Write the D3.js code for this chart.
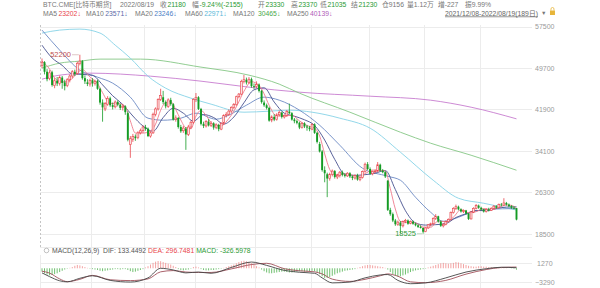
<!DOCTYPE html>
<html><head><meta charset="utf-8">
<script src="https://cdn.jsdelivr.net/npm/d3@7"></script>
<style>body{margin:0;background:#fff;} svg{display:block;font-family:"Liberation Sans","Noto Sans CJK SC",sans-serif;}</style>
</head><body><svg id="c" width="600" height="288"></svg>
<script>
// ---------- DATA ----------
const opens=[50200,50800,49000,47700,48900,46400,47300,46800,47900,47000,46400,47500,48200,49000,48700,50600,51000,47800,47000,46700,
47400,46800,47300,45800,43200,42000,42900,44000,42700,42400,43300,42800,42300,42500,41200,35300,36300,36800,36600,37500,
37900,38600,38300,36900,37500,41000,42000,43800,44200,43300,42500,43700,42900,40000,40300,38600,37900,38300,37200,38600,
39500,43800,44200,42000,39200,38800,39600,38900,39300,38500,39000,38200,39300,40800,41000,41600,42300,42800,44300,44800,
47200,47500,47000,47600,46300,46200,46600,45400,43200,42700,42200,39900,40500,40000,40900,41300,40500,40800,41500,41200,
40000,39700,39400,38500,39300,38700,38500,38200,39100,37500,35400,34000,30500,29700,28900,29700,30300,29200,29500,30100,
29600,29400,29900,29300,29000,29500,28700,29100,30200,31600,30700,29800,30200,30300,31500,30400,30100,28500,23000,22200,
21000,20300,20600,20000,20800,21000,20500,20800,20400,20100,19800,19600,18900,19600,20200,20400,21400,21800,20800,20000,
20300,20800,21200,22500,23300,23600,23100,22700,22900,22300,21300,22600,23300,23800,23400,23100,22700,23100,22900,23300,
23700,23400,24000,23900,24300,24000,23700,23400,23330];
const highs=[51500,51000,49500,49300,49200,47800,48000,48300,48200,47500,47800,48500,49300,49400,50900,52200,51200,48300,47600,47700,
47800,47500,47500,46000,43800,43300,44400,44300,43200,43600,43600,43000,42900,42700,41500,36900,37300,37200,37800,38300,
38900,39000,38500,37800,41300,42300,44000,45800,45400,43600,44000,44100,43100,40800,40500,39000,38800,38600,39000,39800,
44000,45000,44400,42200,39600,39900,40100,39700,39500,39300,39200,39500,41000,41400,41900,42500,43100,44500,45000,47500,
48400,47900,48000,47900,46800,47200,46800,45600,43600,43000,42400,40800,41000,41200,41700,41500,41000,41800,43000,41400,
40300,40000,39600,39500,39500,39000,38800,39300,39300,37700,35800,34300,31200,30000,30000,30600,30500,29800,30300,30400,
29900,30100,30100,29500,29700,29800,29300,30400,31900,32000,31000,30400,30600,32000,31700,30700,30300,28600,23400,22500,
21300,21000,20900,21000,21300,21200,21000,21000,20600,20300,20100,19700,19700,20300,20600,21600,22200,21900,21000,20500,
21000,21400,22700,23500,24000,23800,23300,23100,23000,22400,22800,23500,24100,24000,23600,23200,23300,23400,23500,23900,
23900,24200,24300,25200,24500,24200,23900,23700,23370];
const lows=[49700,48500,47200,47400,46200,45900,46300,46400,45800,45500,46100,47000,47800,48200,48400,50200,47500,46700,46300,46200,
46200,46400,45600,42800,39600,41600,42600,42400,41900,42100,42500,41800,41700,40900,35900,32800,35800,36000,36300,37200,
37500,37900,36700,36600,37300,40600,41700,43500,42900,42100,42200,42600,39800,39600,38300,37500,37500,34300,36900,38200,
39200,43300,41800,38900,38400,38500,38700,38600,38100,38200,37800,38000,39000,40400,40700,41200,42000,42600,44000,44600,
46800,46600,46700,46000,45800,45900,45100,43000,42400,41900,39600,39500,39700,39800,40600,40200,40200,40500,41000,39800,
39300,39100,38200,38300,38400,37900,37800,38000,37300,35500,33800,30200,28200,25400,28500,29300,28900,28800,29100,29300,
29100,29200,29000,28600,28700,28500,28400,28900,30000,30500,29600,29500,29900,30100,30200,29900,29000,22800,21900,20700,
20000,20000,18600,19700,20500,20200,20300,20200,19900,19600,19500,18525,18800,19400,19900,20200,21100,20600,19800,19700,
20100,20600,21000,22300,23000,22900,22500,22400,22100,21100,21200,22400,23100,23200,22900,22500,22500,22700,22800,23100,
23200,23300,23700,23800,23800,23500,23200,23100,21035];
const closes=[50800,49000,47600,48800,46500,47300,46800,47900,46900,46300,47500,48200,49000,48600,50600,51000,47800,47200,46700,47400,
46800,47200,45800,43200,42300,43000,44000,42700,42400,43300,42800,42200,42500,41400,36200,36400,36800,36500,37500,37900,
38600,38300,36900,37500,41000,42000,43800,44500,43300,42500,43700,42900,40000,40300,38600,37800,38400,37200,38600,39500,
43800,44200,42000,39200,38800,39600,38900,39300,38500,39000,38200,39300,40800,41000,41600,42300,42800,44300,44800,47200,
47500,47000,47600,46300,46200,46600,45400,43300,42700,42200,39800,40500,40000,40900,41300,40500,40800,41500,41200,40000,
39700,39400,38500,39300,38700,38500,38200,39100,37500,35800,34000,30500,29900,28900,29700,30300,29200,29500,30100,29600,
29400,29900,29300,29000,29500,28700,29100,30200,31600,30700,29800,30200,30300,31500,30400,30100,29300,23000,22200,21000,
20300,20700,20000,20800,21000,20400,20800,20400,20100,19800,19600,18900,19600,20200,20400,21400,21800,20800,20000,20300,
20800,21200,22500,23300,23600,23100,22700,22900,22300,21300,22600,23300,23800,23400,23100,22700,23100,22900,23300,23700,
23400,24000,23900,24300,24000,23700,23400,23335,21180];

// moving-average lines: [candle index, value]
const ma5=[[0,51000],[3,49500],[5,47840],[8,47080],[11,47360],[14,48780],[16,49400],[19,48020],[22,46780],[24,45060],[27,43040],[30,43040],[33,42440],[35,39740],[37,37460],[40,37460],[43,37840],[45,39140],[47,41760],[49,43220],[51,43380],[53,41880],[55,39920],[57,38460],[59,38300],[61,40660],[63,41740],[65,40760],[68,39020],[71,38860],[74,40180],[77,42400],[80,45320],[83,47120],[86,46420],[88,44840],[90,42680],[93,40680],[96,40700],[99,40800],[102,39760],[105,38880],[108,38400],[110,36920],[112,33540],[114,30600],[116,29600],[119,29740],[122,29660],[125,29280],[128,29820],[131,30500],[134,30440],[136,30320],[138,27000],[140,23160],[142,20840],[145,20580],[148,20540],[151,19760],[154,19740],[157,20920],[160,20740],[163,21620],[166,23040],[169,22460],[172,22660],[175,23260],[178,23020],[181,23460],[184,23920],[186,23860],[188,23202]];
const ma10=[[0,54000],[4,51600],[8,50200],[12,48600],[16,48500],[20,48330],[24,46540],[28,44480],[32,42840],[36,40670],[40,38800],[44,37800],[48,40380],[52,42120],[56,41200],[60,39710],[64,40950],[68,40380],[72,39160],[76,40480],[80,43160],[84,45600],[88,45980],[92,43300],[96,41200],[100,40640],[104,39960],[108,38890],[112,36150],[116,32490],[120,29710],[124,29500],[128,29630],[132,29910],[136,30410],[140,26830],[144,22840],[148,20550],[152,20140],[156,20220],[160,20420],[164,21570],[168,22270],[172,22890],[176,22850],[180,23270],[184,23530],[188,23571]];
const ma20=[[0,56840],[7,53070],[15,49300],[22,47990],[28,46860],[35,44220],[42,40260],[48,39880],[55,40260],[61,41200],[69,40070],[74,40830],[81,42710],[88,44220],[94,43650],[102,41770],[110,38940],[118,35170],[127,30840],[137,29330],[142,28580],[148,25380],[154,22550],[159,20860],[165,21610],[170,22550],[177,23120],[188,23246]];
const ma60=[[0,56280],[7,56840],[15,57030],[23,56280],[29,54010],[35,51570],[42,48170],[49,45910],[59,44030],[67,42900],[80,41390],[90,41580],[98,41770],[107,41390],[118,40260],[130,38380],[142,33860],[155,28580],[165,25190],[175,24250],[188,22971]];
const ma120=[[0,49680],[7,50620],[15,51000],[23,51380],[39,51380],[63,49870],[82,48360],[94,46670],[102,44970],[122,41390],[142,37620],[154,35550],[170,33290],[188,30465]];
const ma250=[[0,47600],[7,48360],[19,48740],[43,48170],[63,47230],[82,46100],[102,45160],[130,44400],[154,43650],[170,42330],[188,40139]];

const macdHist=[-800,-1200,-1500,-1700,-1600,-1400,-1200,-900,-600,
-300,-100,100,
300,600,800,700,500,300,
100,-100,-200,-300,
-400,-600,-700,-600,-500,-400,-300,
-200,-200,-300,-200,-200,
-400,-700,-900,-800,-600,-400,-200,
200,500,900,1300,1600,1750,1700,1500,1300,1100,900,600,300,
-200,-400,-500,-400,-300,-100,
300,400,200,
-200,-400,-500,-500,-400,-400,-300,-200,-100,100,300,
500,700,900,1200,1500,1700,1800,1700,1500,1200,900,500,200,
-300,-700,-1000,-1200,-1200,-1100,-1000,-900,-800,-800,-900,-1000,-1000,-900,-800,
-700,-700,-800,-800,-700,-600,-700,-900,
-1400,-1900,-2300,-2300,-2100,-1800,
-1500,-1200,-1000,-800,-600,-500,-400,-300,-200,
100,300,500,700,800,800,700,600,500,400,300,
100,-300,
-900,-1400,-1800,-2000,-1900,-1700,-1500,-1200,
-900,-700,-500,-400,-300,-200,-100,
200,400,600,800,1000,1200,1300,1200,1100,1200,1300,1500,1400,1200,1000,800,600,500,
400,400,500,500,400,400,300,300,200,200,100,
100,100,50,0,-50,-100,-327];
const dif=[[0,-1100],[3,-2000],[7,-3000],[10,-3250],[15,-2400],[20,-1800],[27,-2900],[35,-3300],[42,-2300],[47,0],[52,-400],[57,-1100],[62,-900],[67,-1200],[75,200],[83,1500],[89,700],[96,-500],[102,-950],[108,-1200],[111,-2300],[115,-3500],[122,-3300],[128,-2300],[134,-1600],[137,-1500],[141,-2900],[146,-3700],[152,-3500],[160,-2300],[168,-900],[176,-100],[182,250],[188,133]];
const dea=[[0,-700],[3,-1150],[7,-2550],[10,-3200],[15,-2650],[20,-1700],[27,-2750],[35,-2950],[42,-2550],[47,-850],[52,-550],[57,-900],[62,-1000],[67,-1000],[75,-150],[83,900],[89,1200],[96,-100],[102,-600],[108,-850],[111,-1350],[115,-2600],[122,-3150],[128,-2650],[134,-1800],[137,-1350],[141,-1900],[146,-3250],[152,-3450],[160,-2900],[168,-1400],[176,-300],[182,200],[188,296]];

const priceTicks=[57500,49700,41900,34100,26300,18500];
const macdTicks=[1270,-3290];
const monthStarts=[20,41,61,85,107,130,152,174];
const rangeLabel="2021/12/08-2022/08/19(189日)";

// ---------- DRAW ----------
const svg=d3.select("#c");
const UP="#e8434a", DOWN="#149b24", GRID="#ececec";
const n=closes.length;
const x=d3.scaleBand().domain(d3.range(n)).range([40.74,517.76]).padding(0);
const cx=i=>x(i)+x.bandwidth()/2;
const y=d3.scaleLinear().domain([18500,57500]).range([233.8,26.6]);
const ym=d3.scaleLinear().domain([-3290,1270]).range([282,263]);

const grid=svg.append("g");
grid.selectAll(".hg").data(priceTicks).join("line")
  .attr("x1",40).attr("x2",532).attr("y1",d=>Math.round(y(d))+0.5).attr("y2",d=>Math.round(y(d))+0.5)
  .attr("stroke",GRID);
grid.selectAll(".mg").data(macdTicks).join("line")
  .attr("x1",40).attr("x2",532).attr("y1",d=>Math.round(ym(d))+0.5).attr("y2",d=>Math.round(ym(d))+0.5)
  .attr("stroke",GRID);
grid.append("line").attr("x1",40).attr("x2",532).attr("y1",247.5).attr("y2",247.5).attr("stroke",GRID);
grid.selectAll(".vg").data(monthStarts).join("line")
  .attr("x1",d=>Math.round(x(d))+0.5).attr("x2",d=>Math.round(x(d))+0.5).attr("y1",25).attr("y2",288)
  .attr("stroke",GRID);
grid.append("line").attr("x1",40.5).attr("x2",40.5).attr("y1",25).attr("y2",247)
  .attr("stroke","#c4c4c4").attr("stroke-dasharray","2,2");
grid.append("line").attr("x1",40.5).attr("x2",40.5).attr("y1",255).attr("y2",288).attr("stroke",GRID);

// axes
const ay=svg.append("g").attr("transform","translate(535,0)")
  .call(d3.axisRight(y).tickValues(priceTicks).tickSize(0).tickPadding(0).tickFormat(d3.format("d")));
const am=svg.append("g").attr("transform","translate(535,0)")
  .call(d3.axisRight(ym).tickValues(macdTicks).tickSize(0).tickPadding(0).tickFormat(d3.format("d")));
[ay,am].forEach(a=>{a.select(".domain").remove();
  a.selectAll("text").attr("fill","#9a9a9a").style("font-size","7px").style("font-family",'"Liberation Sans",sans-serif');});
am.selectAll("text").filter(d=>d>0).attr("x",2);

// MA lines
const maLine=(sc)=>d3.line().x(d=>cx(d[0])).y(d=>sc(d[1])).curve(d3.curveMonotoneX);
const maDefs=[[ma250,"#c77dcf"],[ma120,"#86c786"],[ma60,"#86d2e6"],[ma20,"#6c8ac4"],[ma10,"#46508e"],[ma5,"#ef7a8c"]];
const lg=svg.append("g");
maDefs.forEach(([d,c])=>lg.append("path").attr("d",maLine(y)(d)).attr("fill","none").attr("stroke",c).attr("stroke-width",0.9));

// candles
const cg=svg.append("g");
const idx=d3.range(n);
cg.selectAll(".w").data(idx).join("line")
  .attr("x1",cx).attr("x2",cx).attr("y1",i=>y(highs[i])).attr("y2",i=>y(lows[i]))
  .attr("stroke",i=>closes[i]>=opens[i]?UP:DOWN).attr("stroke-width",0.8);
cg.selectAll(".b").data(idx).join("rect")
  .attr("x",i=>cx(i)-0.95).attr("width",1.9)
  .attr("y",i=>y(Math.max(opens[i],closes[i])))
  .attr("height",i=>Math.max(0.8,Math.abs(y(opens[i])-y(closes[i]))))
  .attr("fill",i=>closes[i]>=opens[i]?"#fbe3e3":DOWN)
  .attr("stroke",i=>closes[i]>=opens[i]?UP:"none").attr("stroke-width",0.6);

// high / low markers
const hiI=d3.maxIndex(highs), loI=d3.minIndex(lows);
svg.append("line").attr("x1",72).attr("x2",cx(hiI)-1).attr("y1",y(highs[hiI])).attr("y2",y(highs[hiI])).attr("stroke","#c9a0a0").attr("stroke-width",0.6);
svg.append("text").attr("x",71).attr("y",y(highs[hiI])+2.5).attr("text-anchor","end")
  .attr("fill","#c0504d").style("font-size","7.5px").text(highs[hiI]);
svg.append("line").attr("x1",417).attr("x2",cx(loI)-1).attr("y1",y(lows[loI])).attr("y2",y(lows[loI])).attr("stroke","#9cc89c").attr("stroke-width",0.6);
svg.append("text").attr("x",416).attr("y",y(lows[loI])+2.5).attr("text-anchor","end")
  .attr("fill","#2f9a3a").style("font-size","7.5px").text(lows[loI]);

// MACD
const mg=svg.append("g");
mg.selectAll("line").data(idx).join("line")
  .attr("x1",cx).attr("x2",cx).attr("y1",ym(0)).attr("y2",i=>ym(macdHist[i]))
  .attr("stroke",i=>macdHist[i]>=0?"#f08a8a":"#4bb04b").attr("stroke-width",0.8);
const ml=d3.line().x(d=>cx(d[0])).y(d=>ym(d[1])).curve(d3.curveMonotoneX);
mg.append("path").attr("d",ml(dea)).attr("fill","none").attr("stroke","#a0505a").attr("stroke-width",0.9);
mg.append("path").attr("d",ml(dif)).attr("fill","none").attr("stroke","#444").attr("stroke-width",0.9);

// texts: laid out left to right, never overlapping
function row(items,yy,sz,gap){
  let end=-1e9;
  items.forEach(([xx,s,c])=>{
    const t=svg.append("text").attr("y",yy).attr("fill",c).style("font-size",sz+"px").text(s);
    const px=Math.max(xx,end+gap);
    t.attr("x",px);
    end=px+t.node().getComputedTextLength();
  });
  return end;
}
const G="#777", GR="#2a9a33";
row([[43,"BTC.CME[比特币期货]",G],[120,"2022/08/19",G],[160,"收",G],[167,"21180",GR],[192,"幅",G],[199,"-9.24%(-2155)",GR],[258,"开",G],[265,"23330",GR],[291,"高",G],[298,"23370",GR],[320,"低",G],[327,"21035",GR],[351,"结",G],[358,"21230",GR],[382,"仓9156",G],[407,"量1.12万",G],[438,"增-227",G],[465,"振9.99%",G]],6.5,6.8,0.6);
row([[43,"MA5","#777"],[55,"23202↓","#e8434a"],[86,"MA10","#777"],[103,"23571↓","#5a6aa8"],[135,"MA20","#777"],[153,"23246↓","#4a7cc4"],[185,"MA60","#777"],[203,"22971↓","#5ab8d8"],[233,"MA120","#777"],[258,"30465↓","#4aa84a"],[287,"MA250","#777"],[306,"40139↓","#b060b8"]],15.5,6.8,1.5);
const rt=svg.append("text").attr("x",445).attr("y",15.5).attr("fill","#666").style("font-size","6.8px")
  .style("text-decoration","underline").text(rangeLabel);
const rEnd=445+rt.node().getComputedTextLength();
svg.append("text").attr("x",rEnd+3).attr("y",15).attr("fill","#777").style("font-size","5.5px").text("▼");
svg.append("rect").attr("x",rEnd+12).attr("y",10.5).attr("width",5).attr("height",4.5).attr("fill","#e7b53a");
svg.append("path").attr("d",`M${rEnd+13},10.5 v-1.5 a1.5,1.5 0 0 1 3,0 v1.5`).attr("fill","none").attr("stroke","#e7b53a").attr("stroke-width",0.8);
// MACD label
svg.append("circle").attr("cx",46.5).attr("cy",250.5).attr("r",2.3).attr("fill","none").attr("stroke","#999").attr("stroke-width",0.6);
row([[52,"MACD(12,26,9)","#555"],[103,"DIF: 133.4492","#555"],[148,"DEA: 296.7481","#e8434a"],[189,"MACD: -326.5978",GR]],253,6.8,2);
</script></body></html>
